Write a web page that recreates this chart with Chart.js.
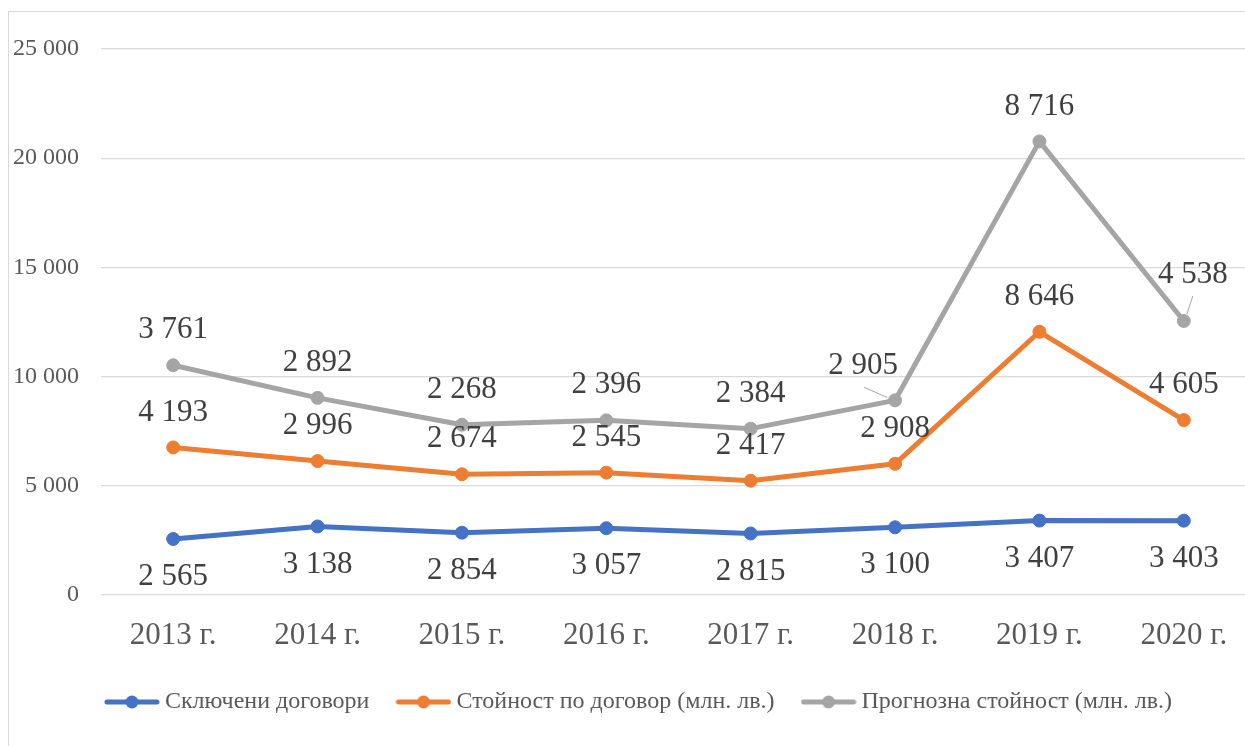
<!DOCTYPE html>
<html>

<head>
    <meta charset="utf-8">
    <title>Договори 2013-2020</title>
    <script src="https://cdn.jsdelivr.net/npm/chart.js"></script>
    <style>
        body { margin: 0; overflow: hidden; background: #fff; }
        #frame {
            position: absolute; left: 8px; top: 11px;
            width: 1300px; height: 800px;
            border: 1.5px solid #d9d9d9;
        }
        #box { position: absolute; left: 0; top: 0; width: 1270px; height: 770px; }
    </style>
</head>

<body>
    <div id="frame"></div>
    <div id="box"><canvas id="chart"></canvas></div>

    <script>
        // Data (values are per series, the chart stacks them)
        const years = ['2013 г.', '2014 г.', '2015 г.', '2016 г.', '2017 г.', '2018 г.', '2019 г.', '2020 г.'];
        const contracts = [2565, 3138, 2854, 3057, 2815, 3100, 3407, 3403];
        const contractValue = [4193, 2996, 2674, 2545, 2417, 2908, 8646, 4605];
        const forecastValue = [3761, 2892, 2268, 2396, 2384, 2905, 8716, 4538];
        const seriesNames = ['Сключени договори', 'Стойност по договор (млн. лв.)', 'Прогнозна стойност (млн. лв.)'];
        const yTicks = [0, 5000, 10000, 15000, 20000, 25000];

        const colors = ['#4472C4', '#ED7D31', '#A5A5A5'];
        const serif = '"Liberation Serif", "Times New Roman", serif';

        // "2 565" style numbers
        function fmt(v) {
            return String(v).replace(/\B(?=(\d{3})+(?!\d))/g, ' ');
        }

        // Legend icons: line with a dot, like Excel
        function makeIcon(color) {
            const c = document.createElement('canvas');
            c.width = 56; c.height = 16;
            const g = c.getContext('2d');
            g.strokeStyle = color; g.lineWidth = 5; g.lineCap = 'round';
            g.beginPath(); g.moveTo(3, 8); g.lineTo(53, 8); g.stroke();
            g.fillStyle = color;
            g.beginPath(); g.arc(28, 8, 6.5, 0, Math.PI * 2); g.fill();
            return c;
        }
        const legendIcons = colors.map(makeIcon);

        // Label placement: above for upper series, below for the bottom one
        const labelDy = [38, -35, -35];
        const labelTweaks = {
            '2-5': { dx: -32, dy: -34, leader: [-31, -13, -8, -3] },
            '2-7': { dx: 9, dy: -46, leader: [9, -25, 3, -7] }
        };

        const valueLabels = {
            id: 'valueLabels',
            afterLayout(chart) {
                // nudge the legend row a bit to the right, as in the original
                if (chart.legend) chart.legend.left += 27;
            },
            afterDatasetsDraw(chart) {
                const ctx = chart.ctx;
                ctx.save();
                ctx.font = '31px ' + serif;
                ctx.fillStyle = '#404040';
                ctx.textAlign = 'center';
                ctx.textBaseline = 'middle';
                chart.data.datasets.forEach((ds, d) => {
                    const meta = chart.getDatasetMeta(d);
                    meta.data.forEach((pt, i) => {
                        const t = labelTweaks[d + '-' + i] || { dx: 0, dy: labelDy[d] };
                        ctx.fillText(fmt(ds.data[i]), pt.x + t.dx, pt.y + t.dy);
                        if (t.leader) {
                            ctx.strokeStyle = '#a5a5a5';
                            ctx.lineWidth = 1;
                            ctx.beginPath();
                            ctx.moveTo(pt.x + t.leader[0], pt.y + t.leader[1]);
                            ctx.lineTo(pt.x + t.leader[2], pt.y + t.leader[3]);
                            ctx.stroke();
                        }
                    });
                });
                ctx.restore();
            }
        };

        function series(label, data, color) {
            return {
                label: label,
                data: data,
                borderColor: color,
                backgroundColor: color,
                borderWidth: 5,
                borderJoinStyle: 'round',
                borderCapStyle: 'round',
                pointRadius: 6.5,
                pointBorderWidth: 1,
                pointBackgroundColor: color,
                pointBorderColor: color,
                fill: false,
                tension: 0
            };
        }

        const ctx = document.getElementById('chart').getContext('2d');
        new Chart(ctx, {
            type: 'line',
            data: {
                labels: years,
                datasets: [
                    series(seriesNames[0], contracts, colors[0]),
                    series(seriesNames[1], contractValue, colors[1]),
                    series(seriesNames[2], forecastValue, colors[2])
                ]
            },
            options: {
                responsive: true,
                maintainAspectRatio: false,
                animation: false,
                devicePixelRatio: 1,
                layout: { padding: { left: 0, right: 14, top: 49, bottom: 46 } },
                scales: {
                    x: {
                        offset: true,
                        grid: { display: false },
                        border: { display: false },
                        ticks: { color: '#595959', font: { family: serif, size: 31 }, padding: 14 },
                        afterFit(scale) { scale.height = 62; }
                    },
                    y: {
                        stacked: true,
                        min: 0,
                        max: 25000,
                        afterBuildTicks(scale) { scale.ticks = yTicks.map(v => ({ value: v })); },
                        grid: { color: '#d9d9d9', lineWidth: 1.3, drawTicks: false },
                        border: { display: false },
                        ticks: {
                            color: '#595959',
                            font: { family: serif, size: 24 },
                            padding: 22,
                            callback: v => fmt(v)
                        },
                        afterFit(scale) { scale.width = 101; }
                    }
                },
                plugins: {
                    tooltip: { enabled: false },
                    legend: {
                        position: 'bottom',
                        labels: {
                            usePointStyle: true,
                            pointStyleWidth: 42,
                            padding: 33,
                            color: '#595959',
                            font: { family: serif, size: 24 },
                            generateLabels(chart) {
                                const items = Chart.defaults.plugins.legend.labels.generateLabels(chart);
                                items.forEach((it, i) => { it.pointStyle = legendIcons[i]; });
                                return items;
                            }
                        }
                    }
                }
            },
            plugins: [valueLabels]
        });
    </script>
</body>

</html>
